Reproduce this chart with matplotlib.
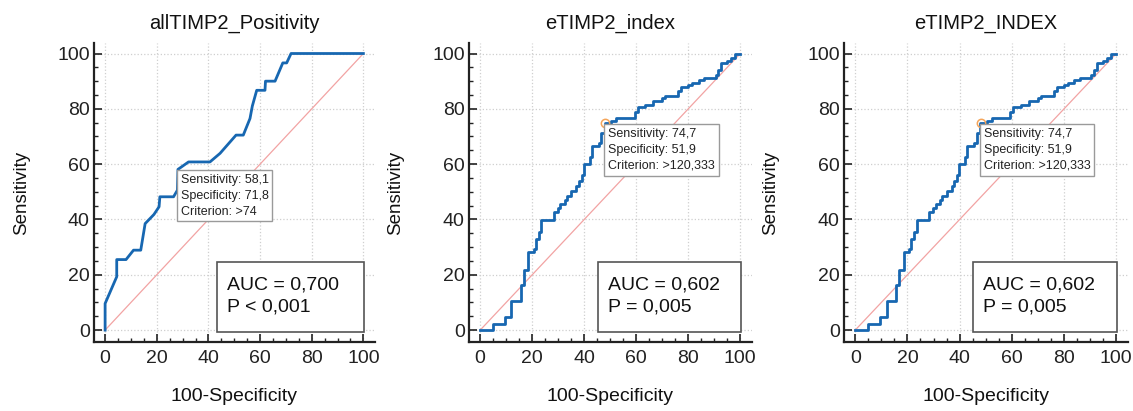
import matplotlib
matplotlib.use("Agg")
import matplotlib.pyplot as plt
from matplotlib.patches import Rectangle
from matplotlib.ticker import MultipleLocator

plt.rcParams['font.family'] = ['Liberation Sans', 'DejaVu Sans']

# ---- data ----
titles = ["allTIMP2_Positivity", "eTIMP2_index", "eTIMP2_INDEX"]

pos_fpr = [0, 0, 4.5, 4.5, 8.1, 11, 13.8, 15.5, 18.9, 20.9, 21.2, 26.5, 28, 28.2,
           32.3, 40.6, 44.5, 50.7, 53.5, 56.1, 57, 58.7, 61.9, 62.1, 65.8, 68.8,
           70.3, 72, 100]
pos_tpr = [0, 9.6, 19.3, 25.5, 25.5, 28.9, 28.9, 38.5, 41.8, 44.6, 48.2, 48.2,
           50.6, 58.1, 60.8, 60.8, 63.9, 70.5, 70.5, 76.5, 81, 86.7, 86.7, 90,
           90, 96.6, 96.6, 100, 100]

idx_fpr = [0, 5, 9.6, 12, 15.5, 16.8, 18.5, 20.5, 21.5, 22.5, 23.5, 28.2, 29.8,
           30.8, 32.5, 33.2, 35, 37, 37.8, 39, 39.8, 42.2, 43, 45.5, 46.5, 47.9,
           50.4, 52.4, 59.4, 60.6, 63.5, 66.4, 70, 71, 76, 77.3, 80, 81.5, 84,
           86, 90.5, 91.5, 92.5, 95, 96.5, 98, 100]
idx_tpr = [0, 2.3, 4.7, 10.6, 16.4, 21.7, 28.3, 29.5, 33, 35.5, 39.7, 42.7, 44,
           45.6, 47, 48.6, 50.4, 52, 54, 56, 60, 62.5, 66.5, 67.5, 71.3, 74.7,
           75.7, 76.7, 79, 80.6, 81.5, 83, 83.8, 84.7, 86.5, 88, 88.5, 89.3, 90.3,
           91.3, 92.2, 94, 96.4, 97.2, 98.2, 100, 100]

crit_sens = [58.1, 74.7, 74.7]
crit_spec = [71.8, 51.9, 51.9]
crit_text = [">74", ">120,333", ">120,333"]
auc_vals = ["0,700", "0,602", "0,602"]
p_texts = ["P < 0,001", "P = 0,005", "P = 0,005"]
show_marker = [False, True, True]

curves = [(pos_fpr, pos_tpr, None), (idx_fpr, idx_tpr, 'steps-post'),
          (idx_fpr, idx_tpr, 'steps-post')]

W, H = 1133, 411
fig = plt.figure(figsize=(W / 100, H / 100), dpi=100)

lefts = [94, 469, 844]
rights = [375, 752, 1128]
top, bottom = 43, 342

blue = '#1767b1'
for i in range(3):
    l, r = lefts[i], rights[i]
    ax = fig.add_axes([l / W, (H - bottom) / H, (r - l) / W, (bottom - top) / H])
    ax.set_xlim(-4.3, 104.5)
    ax.set_ylim(-4.3, 103.8)
    ax.spines['top'].set_visible(False)
    ax.spines['right'].set_visible(False)
    for s in ['left', 'bottom']:
        ax.spines[s].set_linewidth(1.6)
        ax.spines[s].set_color('#222222')
    ax.xaxis.set_major_locator(MultipleLocator(20))
    ax.yaxis.set_major_locator(MultipleLocator(20))
    ax.xaxis.set_minor_locator(MultipleLocator(5))
    ax.yaxis.set_minor_locator(MultipleLocator(5))
    ax.tick_params(which='major', direction='in', length=6, width=1.2,
                   labelsize=14, colors='#222222', pad=6)
    ax.tick_params(which='minor', direction='in', length=3, width=1.0,
                   colors='#222222')
    ax.tick_params(axis='y', pad=3)
    ax.set_xticks([0, 20, 40, 60, 80, 100])
    ax.set_yticks([0, 20, 40, 60, 80, 100])
    ax.grid(True, which='major', linestyle=':', color='#cfcfcf', linewidth=0.9)
    ax.set_axisbelow(True)

    ax.plot([0, 100], [0, 100], color='#f2a3a3', linewidth=0.9, zorder=2)
    fx, ty, ds = curves[i]
    if ds:
        ax.plot(fx, ty, color=blue, linewidth=2.0, drawstyle=ds, zorder=3)
    else:
        ax.plot(fx, ty, color=blue, linewidth=2.0, zorder=3)

    px = 100 - crit_spec[i]
    py = crit_sens[i]
    if show_marker[i]:
        ax.plot([px], [py], marker='o', markersize=6, markerfacecolor='none',
                markeredgecolor='#f5a55a', markeredgewidth=1.1, zorder=4)
    ax.annotate(f"Sensitivity: {crit_sens[i]:.1f}".replace('.', ',') + "\n" +
                f"Specificity: {crit_spec[i]:.1f}".replace('.', ',') + "\n" +
                f"Criterion: {crit_text[i]}",
                xy=(px, py), xytext=(2, -3), textcoords='offset points',
                ha='left', va='top', fontsize=9, linespacing=1.45,
                color='#222222', zorder=5,
                bbox=dict(boxstyle='square,pad=0.3', fc='white', ec='#9a9a9a',
                          lw=1.0))

    bx0 = 43.5 if i == 0 else 45.2
    ax.add_patch(Rectangle((bx0, -0.6), 100.4 - bx0, 25.3, facecolor='white',
                           edgecolor='#555555', linewidth=1.2, zorder=5))
    ax.text(bx0 + 3.8, 12.3, f"AUC = {auc_vals[i]}\n{p_texts[i]}", ha='left',
            va='center', fontsize=14, linespacing=1.35, color='#111111',
            zorder=6)

    ax.set_title(titles[i], fontsize=14.5, pad=10, color='#111111')
    ax.set_xlabel("100-Specificity", fontsize=14, color='#111111')
    ax.set_ylabel("Sensitivity", fontsize=13.5, color='#111111')
    ax.xaxis.set_label_coords(0.5, -0.155)
    ax.yaxis.set_label_coords(-0.228, 0.5)

fig.savefig("out.png", dpi=100)
